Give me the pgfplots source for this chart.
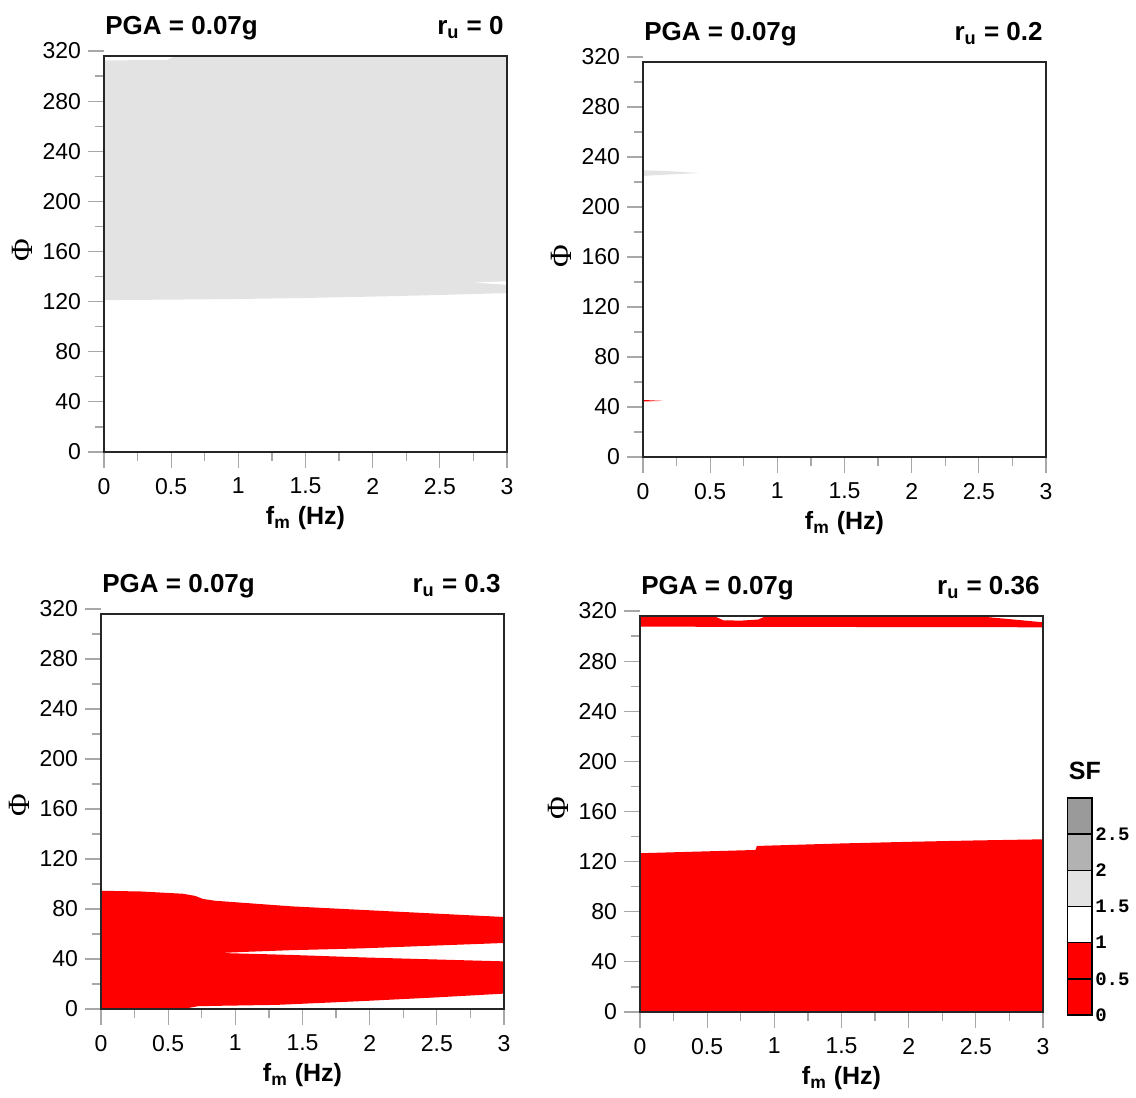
\documentclass[border=0pt]{standalone}
\usepackage{fontspec}
\setmainfont{Liberation Sans}
\setmonofont{Liberation Mono}
\newfontfamily\serifphi{Liberation Serif}
\usepackage{pgfplots}
\pgfplotsset{compat=1.18}
\definecolor{sfred}{HTML}{FF0000}
\definecolor{sfgA}{HTML}{E3E3E3}
\definecolor{sfgB}{HTML}{B2B2B2}
\definecolor{sfgC}{HTML}{9A9A9A}
\definecolor{tickgray}{HTML}{A8A8A8}
\definecolor{framec}{HTML}{262626}
\pgfplotsset{
  panel/.style={
    scale only axis, width=201.5pt, xmin=0, xmax=3, ymin=0, ymax=320,
    clip=false, anchor=south west,
    axis line style={draw=none},
    xtick={0,0.5,1,1.5,2,2.5,3}, ytick={0,40,...,320},
    minor x tick num=1, minor y tick num=1,
    tick align=outside, xtick pos=bottom, ytick pos=left,
    major tick length=8pt, minor tick length=4.5pt,
    tick style={tickgray, line width=0.6pt},
    ticklabel style={font=\fontsize{11.5}{11.5}\selectfont, text=black},
    /pgf/number format/assume math mode=true,
    xticklabel style={yshift=-1.5pt},
  },
}
\tikzset{
  ptitle/.style={anchor=base west, inner sep=0pt, font=\bfseries\fontsize{13}{13}\selectfont, yshift=8pt, xshift=0.5pt},
  pru/.style={anchor=base east, inner sep=0pt, font=\bfseries\fontsize{13}{13}\selectfont, yshift=8pt, xshift=-1.5pt},
  pxl/.style={anchor=base, inner sep=0pt, font=\bfseries\fontsize{12.5}{12.5}\selectfont, yshift=-36.5pt},
  pyl/.style={rotate=90, inner sep=0pt, font=\serifphi\fontsize{15.5}{15.5}\selectfont},
  pframe/.style={framec, line width=1pt},
}
\begin{document}
\begin{tikzpicture}
\useasboundingbox (0,0) rectangle (568pt,549pt);

% ---------------- top left: r_u = 0
\begin{axis}[panel, at={(52pt,323pt)}, height=200.5pt]
\addplot[fill=sfgA, draw=none] coordinates {(0,121.2) (0.5,121.6) (1,122.1) (1.5,122.9) (2,124) (2.5,125.3) (3,126.8) (3,316) (0.53,316) (0.47,312.8) (0,312.5)};
\addplot[fill=white, draw=none] coordinates {(2.76,135.2) (3,136.3) (3,133.4)};
\draw[pframe] (axis cs:0,0) rectangle (axis cs:3,316);
\node[ptitle] at (axis cs:0,320) {PGA = 0.07g};
\node[pru] at (axis cs:3,320) {r\textsubscript{u} = 0};
\node[pxl] at (axis cs:1.5,0) {f\textsubscript{m} (Hz)};
\node[pyl] at ([xshift=-41pt]axis cs:0,161) {Φ};
\end{axis}

% ---------------- top right: r_u = 0.2
\begin{axis}[panel, at={(321.5pt,320.5pt)}, height=200pt]
\addplot[fill=sfgA, draw=none] coordinates {(0,224.8) (0.15,225.8) (0.42,227.2) (0.2,228.6) (0,229.4)};
\addplot[fill=sfred, draw=none] coordinates {(0,44.4) (0.15,44.9) (0,45.6)};
\draw[pframe] (axis cs:0,0) rectangle (axis cs:3,316);
\node[ptitle] at (axis cs:0,320) {PGA = 0.07g};
\node[pru] at (axis cs:3,320) {r\textsubscript{u} = 0.2};
\node[pxl] at (axis cs:1.5,0) {f\textsubscript{m} (Hz)};
\node[pyl] at ([xshift=-41pt]axis cs:0,161) {Φ};
\end{axis}

% ---------------- bottom left: r_u = 0.3
\begin{axis}[panel, at={(50.5pt,44.5pt)}, height=200pt]
\addplot[fill=sfred, draw=none] coordinates {(0,0) (0,94.6) (0.3,94) (0.61,92.2) (0.7,90.5) (0.76,88) (0.85,86.6) (1.42,82.1) (2.16,78.1) (3,73.6) (3,52.8) (2.5,50.8) (1.94,48.5) (1.4,47) (1.1,45.8) (0.885,44.8) (1.1,44.2) (1.4,43.3) (1.94,41.3) (2.5,39.6) (3,38.1) (3,12.3) (2.5,9.3) (1.94,6.3) (1.31,3.3) (0.9,2.6) (0.72,2.2) (0.66,1) (0.62,0)};
\draw[pframe] (axis cs:0,0) rectangle (axis cs:3,316);
\node[ptitle] at (axis cs:0,320) {PGA = 0.07g};
\node[pru] at (axis cs:3,320) {r\textsubscript{u} = 0.3};
\node[pxl] at (axis cs:1.5,0) {f\textsubscript{m} (Hz)};
\node[pyl] at ([xshift=-41pt]axis cs:0,163) {Φ};
\end{axis}

% ---------------- bottom right: r_u = 0.36
\begin{axis}[panel, at={(320pt,43pt)}, height=200.5pt]
\addplot[fill=sfred, draw=none] coordinates {(0,0) (0,126.7) (0.86,129.3) (0.87,132.5) (1.5,134.5) (2,135.8) (2.5,136.9) (3,137.8) (3,0)};
\addplot[fill=sfred, draw=none] coordinates {(0,307.5) (3,307) (3,311) (2.8,313) (2.6,315) (2.48,316) (0.94,316) (0.88,313.2) (0.75,312.3) (0.62,312.6) (0.55,316) (0,316)};
\draw[pframe] (axis cs:0,0) rectangle (axis cs:3,316);
\node[ptitle] at (axis cs:0,320) {PGA = 0.07g};
\node[pru] at (axis cs:3,320) {r\textsubscript{u} = 0.36};
\node[pxl] at (axis cs:1.5,0) {f\textsubscript{m} (Hz)};
\node[pyl] at ([xshift=-41pt]axis cs:0,163) {Φ};
\end{axis}

% ---------------- colour bar
\begin{axis}[at={(533.8pt,41.5pt)}, anchor=south west, scale only axis,
  width=12.3pt, height=108.5pt, xmin=0, xmax=1, ymin=0, ymax=3,
  axis on top, clip=false, xtick=\empty, ytick={0,0.5,1,1.5,2,2.5},
  yticklabel pos=right, major tick length=0pt, ymajorgrids,
  grid style={black, line width=0.8pt}, axis line style={black, line width=0.8pt},
  yticklabel style={font=\ttfamily\bfseries\fontsize{9.5}{9.5}\selectfont, xshift=-2pt},
  /pgf/number format/assume math mode=true]
\addplot[fill=sfred, draw=none] coordinates {(0,0) (1,0) (1,1) (0,1)};
\addplot[fill=white, draw=none] coordinates {(0,1) (1,1) (1,1.5) (0,1.5)};
\addplot[fill=sfgA, draw=none] coordinates {(0,1.5) (1,1.5) (1,2) (0,2)};
\addplot[fill=sfgB, draw=none] coordinates {(0,2) (1,2) (1,2.5) (0,2.5)};
\addplot[fill=sfgC, draw=none] coordinates {(0,2.5) (1,2.5) (1,3) (0,3)};
\node[anchor=base, inner sep=0pt, font=\bfseries\fontsize{12.5}{12.5}\selectfont, yshift=9pt] at (axis cs:0.7,3) {SF};
\end{axis}
\end{tikzpicture}
\end{document}
